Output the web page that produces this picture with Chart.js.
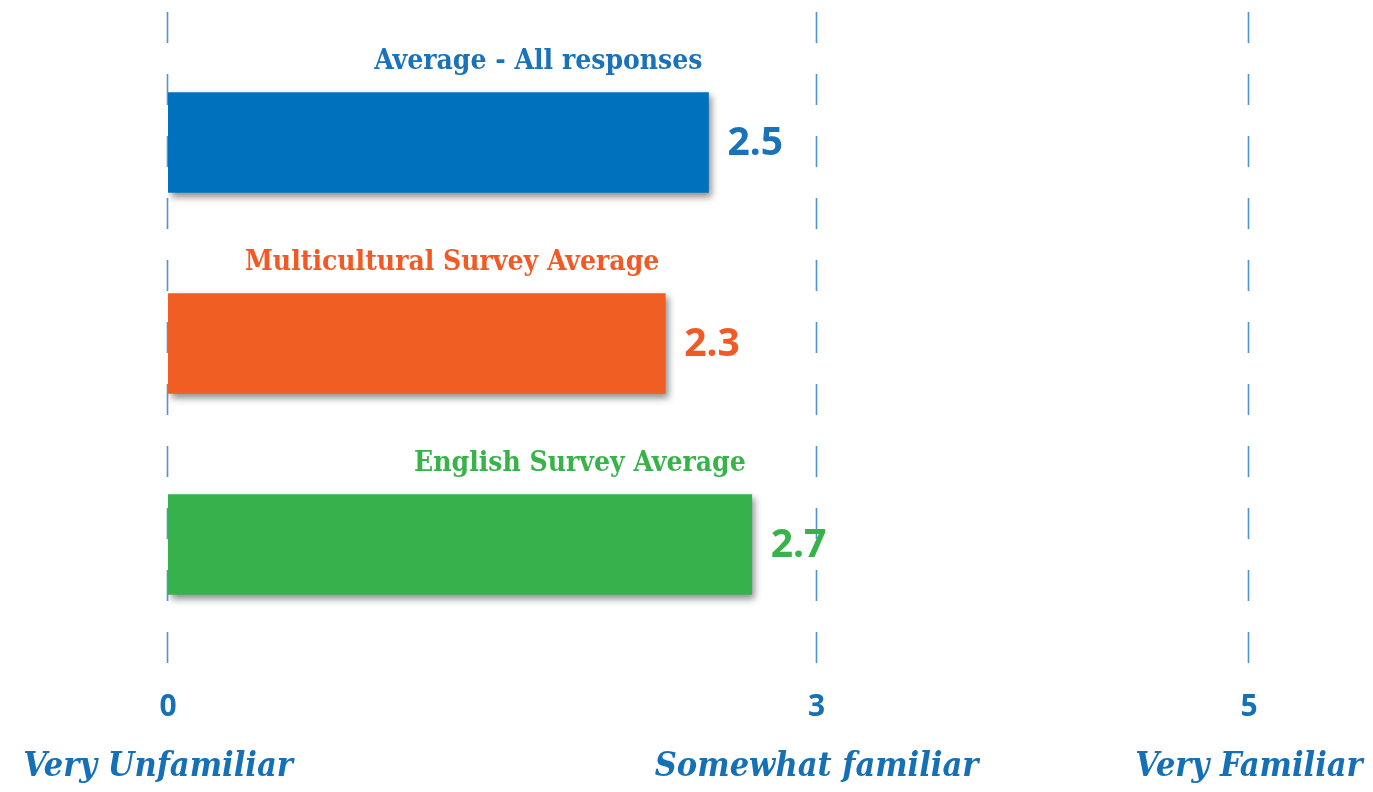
<!DOCTYPE html>
<html><head><meta charset="utf-8">
<script src="https://cdn.jsdelivr.net/npm/chart.js@4/dist/chart.umd.min.js"></script>
<style>html,body{margin:0;padding:0;background:#fff}#wrap{width:1373px;height:792px}</style>
</head><body><div id="wrap"><canvas id="c" width="1373" height="792"></canvas></div>
<script>
const categories = ['Average - All responses', 'Multicultural Survey Average', 'English Survey Average'];
const values = [2.5, 2.3, 2.7];
const barColors = ['#0071BC', '#F15E24', '#36B14B'];
const textColors = ['#1A72B8', '#F15A24', '#38B34A'];
const tickValues = [0, 3, 5];
const tickDescriptions = ['Very Unfamiliar', 'Somewhat familiar', 'Very Familiar'];

const SLAB = '"DejaVu Serif Condensed", "DejaVu Serif", serif';
const SANS = '"Noto Sans", "Open Sans", sans-serif';
const AXIS_BLUE = '#1570B5';

const overlay = {
  id: 'overlay',
  beforeDatasetsDraw(chart) {
    const ctx = chart.ctx, xs = chart.scales.x;
    ctx.save();
    ctx.strokeStyle = '#4D94D2';
    ctx.lineWidth = 1.6;
    ctx.setLineDash([31, 31]);
    ctx.lineDashOffset = -1;
    xs.ticks.forEach(t => {
      const x = Math.round(xs.getPixelForValue(t.value)) - 0.5;
      ctx.beginPath(); ctx.moveTo(x, 11); ctx.lineTo(x, 665); ctx.stroke();
    });
    ctx.restore();
  },
  beforeDatasetDraw(chart) {
    const ctx = chart.ctx;
    ctx.save();
    ctx.shadowColor = 'rgba(0,0,0,0.45)';
    ctx.shadowBlur = 7;
    ctx.shadowOffsetX = 3;
    ctx.shadowOffsetY = 4;
  },
  afterDatasetDraw(chart) { chart.ctx.restore(); },
  afterDraw(chart) {
    const ctx = chart.ctx, xs = chart.scales.x;
    const meta = chart.getDatasetMeta(0);
    ctx.save();
    meta.data.forEach((bar, i) => {
      const top = bar.y - bar.height / 2;
      ctx.fillStyle = textColors[i];
      ctx.font = 'bold 28px ' + SLAB;
      ctx.textAlign = 'right';
      ctx.textBaseline = 'middle';
      ctx.fillText(categories[i], bar.x - 6, top - 31);
      ctx.font = 'bold 39px ' + SANS;
      ctx.textAlign = 'left';
      ctx.fillText(values[i].toFixed(1), bar.x + 19, bar.y + 1);
    });
    ctx.fillStyle = AXIS_BLUE;
    ctx.font = 'italic bold 34px ' + SLAB;
    ctx.textAlign = 'center';
    ctx.textBaseline = 'middle';
    tickValues.forEach((v, i) => {
      ctx.fillText(tickDescriptions[i], xs.getPixelForValue(v) - (i === 0 ? 10 : 0), 767);
    });
    ctx.restore();
  }
};

new Chart(document.getElementById('c'), {
  type: 'bar',
  data: {
    labels: categories,
    datasets: [{ data: values, backgroundColor: barColors, borderWidth: 0, barThickness: 100 }]
  },
  options: {
    indexAxis: 'y',
    responsive: false,
    animation: false,
    devicePixelRatio: 1,
    layout: { padding: { left: 168, right: 124, top: 42, bottom: 0 } },
    plugins: { legend: { display: false }, tooltip: { enabled: false } },
    scales: {
      x: {
        type: 'linear', min: 0, max: 5,
        afterBuildTicks(s) { s.ticks = tickValues.map(v => ({ value: v })); },
        afterFit(s) { s.height = 792 - 645; },
        grid: { display: false, drawTicks: false },
        border: { display: false },
        ticks: { padding: 44, color: AXIS_BLUE, font: { family: SANS, size: 30, weight: 'bold' }, maxRotation: 0, autoSkip: false }
      },
      y: { display: false, grid: { display: false } }
    }
  },
  plugins: [overlay]
});
</script></body></html>
